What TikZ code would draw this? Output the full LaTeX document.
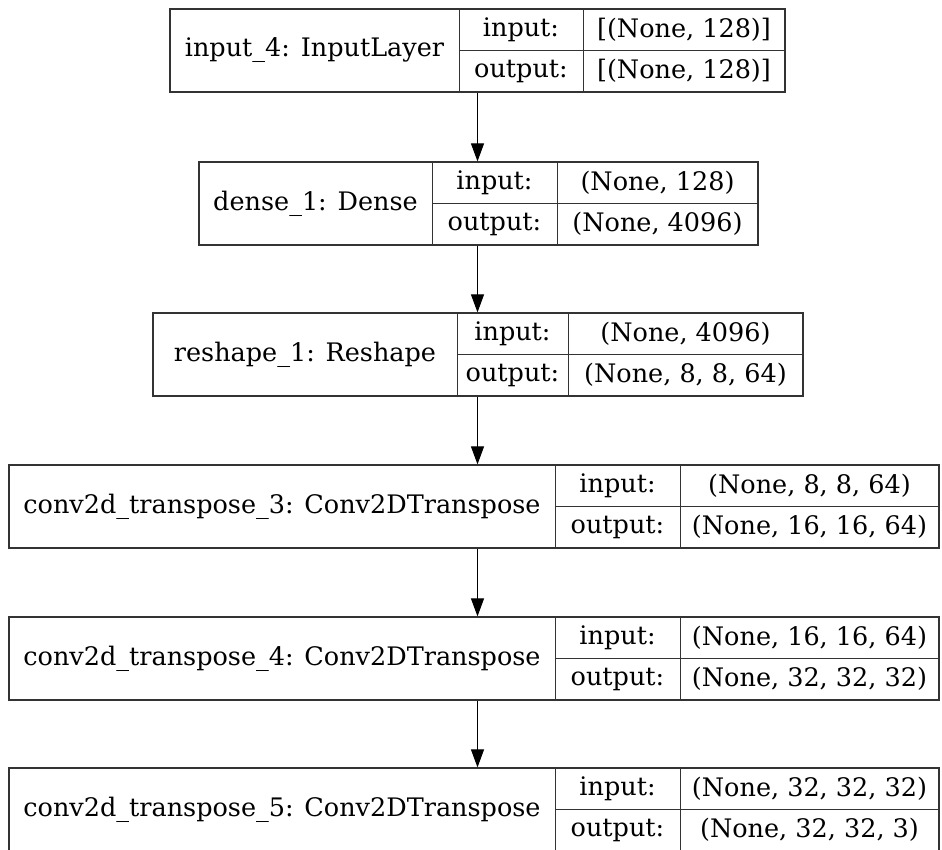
\documentclass[tikz,border=0pt]{standalone}
\usepackage{fontspec}
\setmainfont{DejaVu Serif}
\usetikzlibrary{calc}
\usetikzlibrary{arrows.meta}
\usetikzlibrary{fit}
\tikzset{
   every path/.style={line width=1pt,color=black!80},
   rec/.style={draw,inner sep=0pt,line width=1.2pt},
   cell/.style={inner sep=0pt,font=\fontsize{25.5}{30}\selectfont,text=black},
   flow/.style={-{Triangle[length=18pt,width=13pt]},color=black,line width=1pt},
}
% one keras layer record: name, x1, x2, x3, x4, top, title, in, out
\newcommand{\kerasrec}[9]{%
   \coordinate (#1-nw) at (#2,#6);
   \coordinate (#1-se) at (#5,{#6+83});
   \node[rec,fit=(#1-nw)(#1-se)] (#1) {};
   \draw (#3,#6) -- (#3,{#6+83});
   \draw (#4,#6) -- (#4,{#6+83});
   \draw (#3,{#6+41.5}) -- (#5,{#6+41.5});
   \node[cell] (#1-t)  at ({(#2+#3)/2},{#6+41.5}) {#7};
   \node[cell] (#1-ki) at ({(#3+#4)/2},{#6+20.75}) {input:};
   \node[cell] (#1-ko) at ({(#3+#4)/2},{#6+62.25}) {output:};
   \node[cell] (#1-vi) at ({(#4+#5)/2},{#6+20.75}) {#8};
   \node[cell] (#1-vo) at ({(#4+#5)/2},{#6+62.25}) {#9};
}

\begin{document}
\begin{tikzpicture}[x=1pt,y=-1pt]

        \useasboundingbox (0,0) rectangle (942,850);

        \kerasrec{input}{170}{459}{583}{785}{9}{input\_4: InputLayer}{[(None, 128)]}{[(None, 128)]}
        \kerasrec{dense}{199}{432}{557}{758}{162}{dense\_1: Dense}{(None, 128)}{(None, 4096)}
        \kerasrec{reshape}{153}{457}{568}{803}{313}{reshape\_1: Reshape}{(None, 4096)}{(None, 8, 8, 64)}
        \kerasrec{convA}{9}{555}{680}{939}{465}{conv2d\_transpose\_3: Conv2DTranspose}{(None, 8, 8, 64)}{(None, 16, 16, 64)}
        \kerasrec{convB}{9}{555}{680}{939}{617}{conv2d\_transpose\_4: Conv2DTranspose}{(None, 16, 16, 64)}{(None, 32, 32, 32)}
        \kerasrec{convC}{9}{555}{680}{939}{768}{conv2d\_transpose\_5: Conv2DTranspose}{(None, 32, 32, 32)}{(None, 32, 32, 3)}

        \draw[flow] (input.south) -- (input.south |- dense.north);
        \draw[flow] (input.south |- dense.south)   -- (input.south |- reshape.north);
        \draw[flow] (input.south |- reshape.south) -- (input.south |- convA.north);
        \draw[flow] (input.south |- convA.south)   -- (input.south |- convB.north);
        \draw[flow] (input.south |- convB.south)   -- (input.south |- convC.north);

      \end{tikzpicture}
\end{document}
